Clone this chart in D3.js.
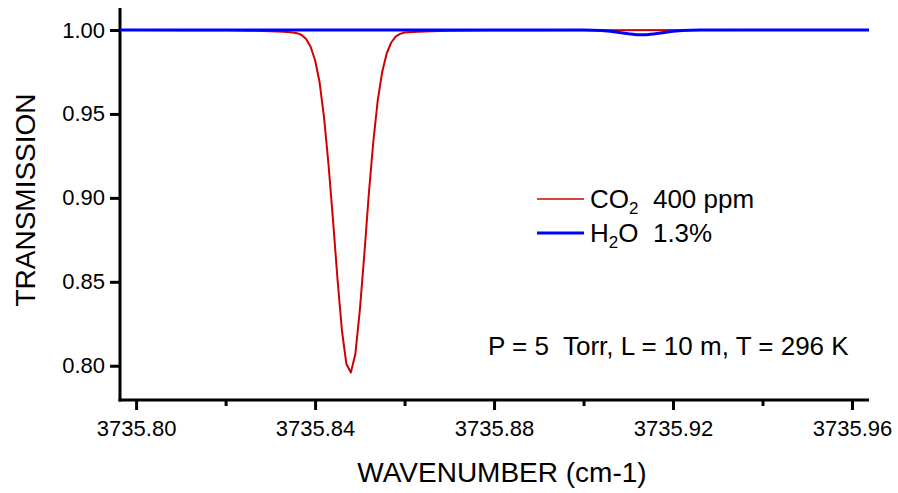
<!DOCTYPE html>
<html>
<head>
<meta charset="utf-8">
<script src="https://cdn.jsdelivr.net/npm/d3@7"></script>
<style>
  body { margin: 0; background: #fff; }
  text { font-family: "Liberation Sans", Arial, sans-serif; fill: #000; }
</style>
</head>
<body>
<script>
const width = 898;
const height = 493;

// CO2 400 ppm line (wavenumber, transmission)
const co2Wn = [3735.7964, 3735.800, 3735.810, 3735.820, 3735.825, 3735.830, 3735.833, 3735.835,
  3735.836, 3735.837, 3735.838, 3735.839, 3735.840, 3735.841, 3735.842, 3735.843, 3735.844,
  3735.845, 3735.846, 3735.847, 3735.848, 3735.849, 3735.850, 3735.851, 3735.852, 3735.853,
  3735.854, 3735.855, 3735.856, 3735.857, 3735.858, 3735.859, 3735.860, 3735.863, 3735.866,
  3735.870, 3735.880, 3735.890, 3735.9638];
const co2T = [1.0000, 1.0000, 0.9999, 0.9998, 0.9996, 0.9993, 0.9990, 0.9985,
  0.9981, 0.9970, 0.9947, 0.9900, 0.9820, 0.9690, 0.9480, 0.9200, 0.8870,
  0.8520, 0.8210, 0.8010, 0.7960, 0.8070, 0.8330, 0.8660, 0.9020, 0.9330,
  0.9580, 0.9750, 0.9860, 0.9924, 0.9960, 0.9977, 0.9985, 0.9990, 0.9993,
  0.9995, 0.9998, 0.9999, 1.0000];

// H2O 1.3% line
const h2oWn = [3735.7964, 3735.880, 3735.896, 3735.900, 3735.902, 3735.904, 3735.906, 3735.908,
  3735.910, 3735.912, 3735.914, 3735.916, 3735.918, 3735.920, 3735.922, 3735.924,
  3735.926, 3735.930, 3735.9638];
const h2oT = [1.0000, 1.0000, 1.0000, 1.0000, 0.9999, 0.9997, 0.9992, 0.9985,
  0.9977, 0.9971, 0.9971, 0.9977, 0.9985, 0.9992, 0.9997, 0.9999,
  1.0000, 1.0000, 1.0000];

const xMajor = [3735.80, 3735.84, 3735.88, 3735.92, 3735.96];
const xMinor = [3735.82, 3735.86, 3735.90, 3735.94];
const yTicks = [0.80, 0.85, 0.90, 0.95, 1.00];

const svg = d3.select("body")
  .append("svg")
  .attr("width", width)
  .attr("height", height);

const x = d3.scaleLinear()
  .domain([3735.7964, 3735.9638])
  .range([120, 869]);
const y = d3.scaleLinear()
  .domain([0.7796, 1.0131])
  .range([400, 8]);

// axes
const yAxis = svg.append("g")
  .attr("transform", "translate(120,0)")
  .call(d3.axisLeft(y).tickValues(yTicks).tickSize(10).tickPadding(5)
    .tickFormat(d3.format(".2f")));
const xAxis = svg.append("g")
  .attr("transform", "translate(0,400)")
  .call(d3.axisBottom(x).tickValues(xMajor).tickSize(10).tickPadding(10)
    .tickFormat(d3.format(".2f")));
const xAxisMinor = svg.append("g")
  .attr("transform", "translate(0,400)")
  .call(d3.axisBottom(x).tickValues(xMinor).tickSize(6).tickFormat(""));

[yAxis, xAxis, xAxisMinor].forEach(a => {
  a.select(".domain").remove();
  a.selectAll("line").attr("stroke", "#000").attr("stroke-width", 3);
  a.selectAll("text").attr("font-size", 22).attr("font-family", "Liberation Sans, Arial, sans-serif").attr("fill", "#000");
});

svg.append("line")
  .attr("x1", 120).attr("x2", 120)
  .attr("y1", 8).attr("y2", 401.5)
  .attr("stroke", "#000").attr("stroke-width", 3);
svg.append("line")
  .attr("x1", 118.5).attr("x2", 869)
  .attr("y1", 400).attr("y2", 400)
  .attr("stroke", "#000").attr("stroke-width", 3);

// series
const line = d3.line()
  .x(d => x(d[0]))
  .y(d => y(d[1]));

svg.append("path")
  .datum(co2Wn.map((w, i) => [w, co2T[i]]))
  .attr("fill", "none")
  .attr("stroke", "#d00000")
  .attr("stroke-width", 2)
  .attr("stroke-linejoin", "round")
  .attr("d", line);

svg.append("path")
  .datum(h2oWn.map((w, i) => [w, h2oT[i]]))
  .attr("fill", "none")
  .attr("stroke", "#0000ff")
  .attr("stroke-width", 3)
  .attr("d", line);

// axis titles
svg.append("text")
  .attr("x", 502)
  .attr("y", 482)
  .attr("text-anchor", "middle")
  .attr("font-size", 28)
  .text("WAVENUMBER (cm-1)");

svg.append("text")
  .attr("transform", "translate(35,200)rotate(-90)")
  .attr("text-anchor", "middle")
  .attr("font-size", 28)
  .text("TRANSMISSION");

// legend
const legend = [
  { name: "CO", sub: "2", rest: "  400 ppm", color: "#d00000", width: 1.5, y: 199 },
  { name: "H", sub: "2", rest: "O  1.3%", color: "#0000ff", width: 3, y: 233 }
];
legend.forEach(d => {
  svg.append("line")
    .attr("x1", 537).attr("x2", 584)
    .attr("y1", d.y).attr("y2", d.y)
    .attr("stroke", d.color)
    .attr("stroke-width", d.width);
  const t = svg.append("text")
    .attr("x", 590)
    .attr("y", d.y + 9)
    .attr("font-size", 26)
    .style("white-space", "pre");
  t.append("tspan").text(d.name);
  t.append("tspan").attr("font-size", 17).attr("dy", 6).text(d.sub);
  t.append("tspan").attr("dy", -6).text(d.rest);
});

svg.append("text")
  .attr("x", 488)
  .attr("y", 355)
  .attr("font-size", 26)
  .style("white-space", "pre")
  .text("P = 5  Torr, L = 10 m, T = 296 K");
</script>
</body>
</html>
